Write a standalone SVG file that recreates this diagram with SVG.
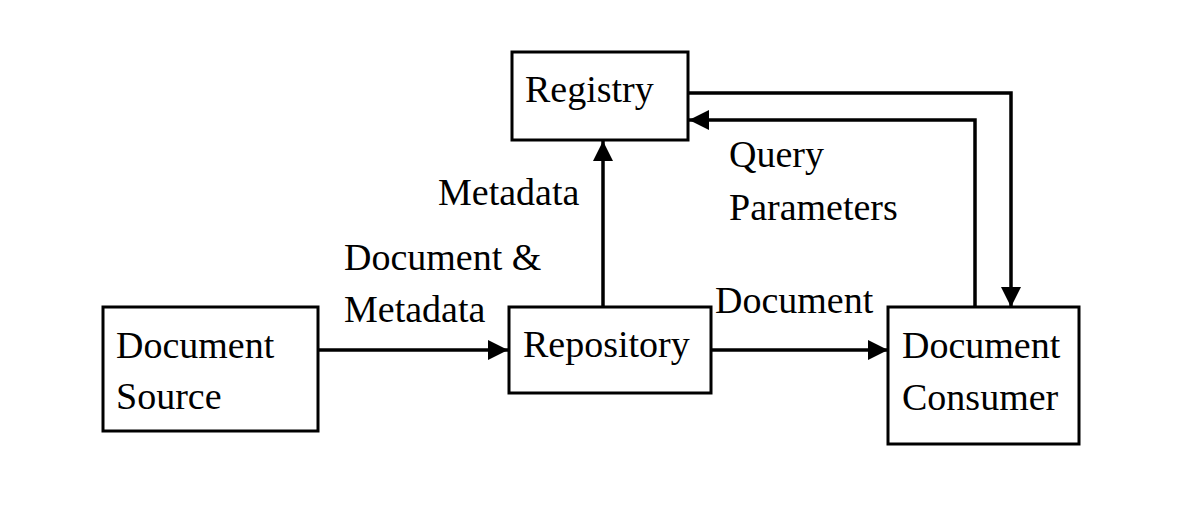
<svg xmlns="http://www.w3.org/2000/svg" width="1200" height="514" viewBox="0 0 1200 514">
<style>
.box{fill:#fff;stroke:#000;stroke-width:3}
.t{font-family:"Liberation Serif","Times New Roman",serif;font-size:38px;fill:#000}
.c{fill:none;stroke:#000;stroke-width:3.5}
</style>
<defs>
<marker id="ah" markerUnits="userSpaceOnUse" markerWidth="22" markerHeight="22" refX="20" refY="10" orient="auto">
<path d="M0,0 L20,10 L0,20 Z" fill="#000"/>
</marker>
</defs>
<rect width="1200" height="514" fill="#fff"/>
<g id="connectors">
<line class="c" x1="318" y1="350" x2="508" y2="350" marker-end="url(#ah)"/>
<line class="c" x1="711" y1="350" x2="888" y2="350" marker-end="url(#ah)"/>
<line class="c" x1="603" y1="307" x2="603" y2="141" marker-end="url(#ah)"/>
<polyline class="c" points="688,93 1011,93 1011,307" marker-end="url(#ah)"/>
<polyline class="c" points="975,307 975,120 689,120" marker-end="url(#ah)"/>
<text class="t" x="344" y="270">Document &amp;</text>
<text class="t" x="344" y="322">Metadata</text>
<text class="t" x="438" y="205">Metadata</text>
<text class="t" x="715" y="313">Document</text>
<text class="t" x="729" y="167">Query</text>
<text class="t" x="729" y="220">Parameters</text>
</g>
<g id="source">
<rect class="box" x="103" y="307" width="215" height="124"/>
<text class="t" x="116" y="358">Document</text>
<text class="t" x="116" y="409">Source</text>
</g>
<g id="repository">
<rect class="box" x="509" y="307" width="202" height="86"/>
<text class="t" x="523" y="357">Repository</text>
</g>
<g id="registry">
<rect class="box" x="512" y="52" width="176" height="88"/>
<text class="t" x="525" y="102">Registry</text>
</g>
<g id="consumer">
<rect class="box" x="888" y="307" width="191" height="137"/>
<text class="t" x="902" y="358">Document</text>
<text class="t" x="902" y="410">Consumer</text>
</g>
</svg>
